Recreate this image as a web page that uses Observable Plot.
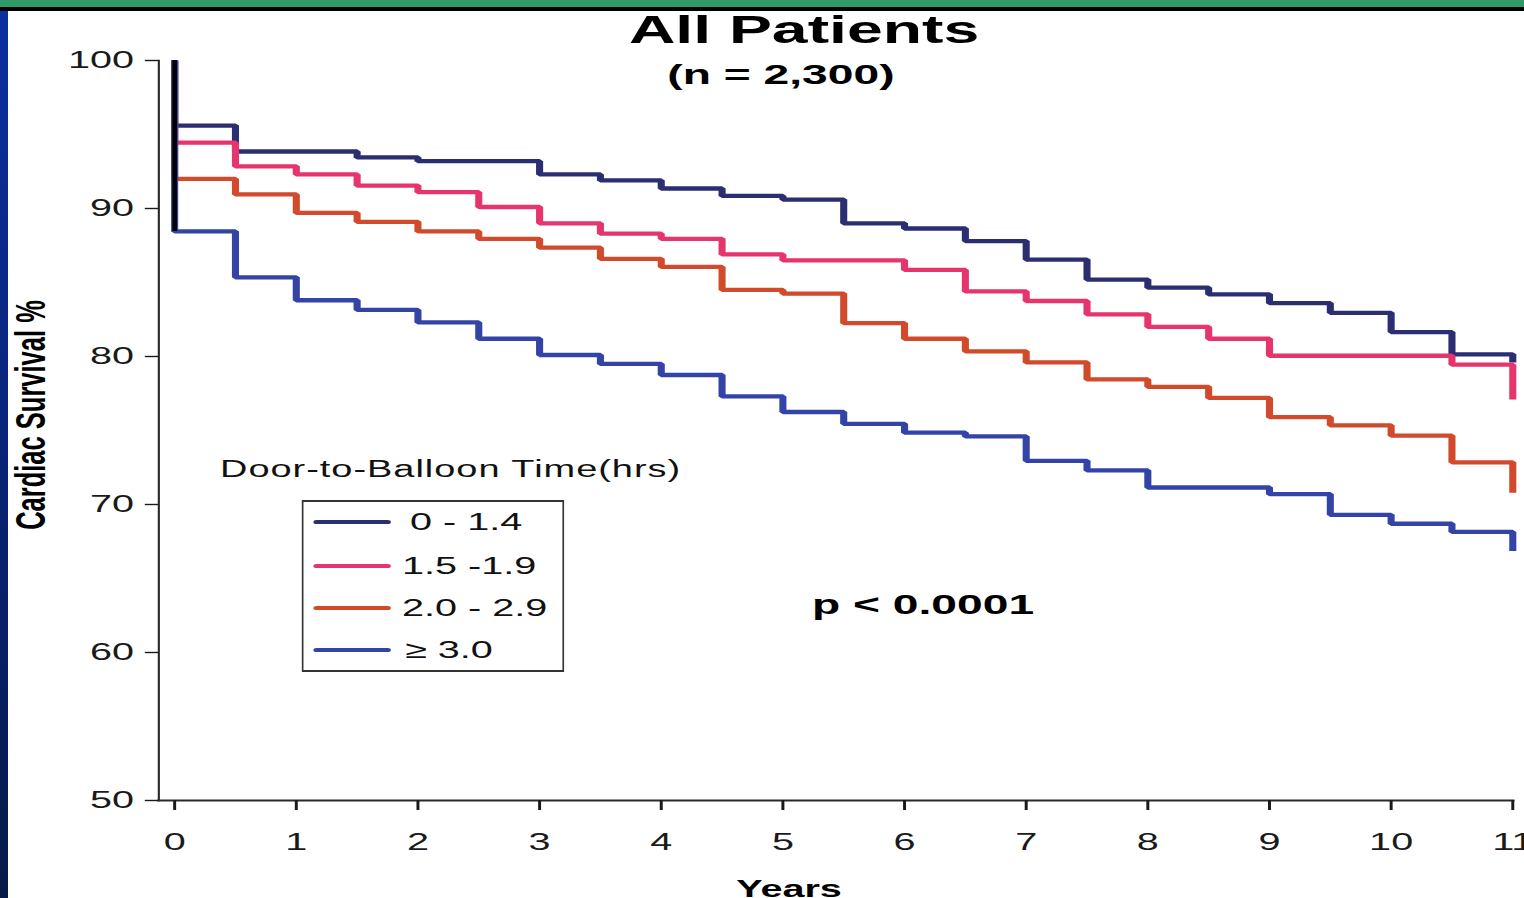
<!DOCTYPE html>
<html>
<head>
<meta charset="utf-8">
<script src="https://cdn.jsdelivr.net/npm/d3@7"></script>
<script src="https://cdn.jsdelivr.net/npm/@observablehq/plot@0.6"></script>
<style>
  html, body { margin: 0; padding: 0; width: 1524px; height: 898px; overflow: hidden; background: #fff; }
  body { position: relative; font-family: "Liberation Sans", Arial, Helvetica, sans-serif; color: #111; }
  #greenbar { position: absolute; left: 0; top: 0; width: 1524px; height: 7px; background: #2f9a68; z-index: 5; }
  #blackbar { position: absolute; left: 0; top: 7px; width: 1524px; height: 4px; background: #000; z-index: 5; }
  #bluebar { position: absolute; left: 0; top: 11px; width: 7.5px; height: 887px; background: linear-gradient(#0b2fa0, #08216e 60%, #061a48); z-index: 5; }
  #stage { position: absolute; left: 0; top: 0; width: 924px; height: 898px; transform: scaleX(1.649351); transform-origin: 0 0; }
  #stage svg { position: absolute; left: 0; top: 0; }
  .t { position: absolute; white-space: pre; line-height: 1; }
  .swatch { position: absolute; height: 4px; border-radius: 2px; }
</style>
</head>
<body>
<div id="greenbar"></div>
<div id="blackbar"></div>
<div id="bluebar"></div>
<div id="stage"></div>
<script>
// ---------- data ----------
const groups = ["0 - 1.4", "1.5 -1.9", "2.0 - 2.9", "\u2265 3.0"];
const groupColors = ["#2b2f72", "#e5356c", "#d24a2c", "#3344a6"];
const startValue = 100;
const years = [0, 0.5, 1, 1.5, 2, 2.5, 3, 3.5, 4, 4.5, 5, 5.5, 6, 6.5, 7, 7.5, 8, 8.5, 9, 9.5, 10, 10.5, 11];
const survival0to14 = [95.6, 93.85, 93.85, 93.45, 93.2, 93.2, 92.3, 91.9, 91.35, 90.85, 90.6, 89.0, 88.65, 87.8, 86.55, 85.2, 84.65, 84.2, 83.6, 82.95, 81.65, 80.15, 79.6];
const survival15to19 = [94.45, 92.85, 92.3, 91.55, 91.1, 90.1, 89.0, 88.3, 87.95, 86.9, 86.5, 86.5, 85.85, 84.4, 83.75, 82.85, 82.0, 81.2, 80.05, 80.05, 80.05, 79.45, 77.1];
const survival20to29 = [92.0, 90.95, 89.7, 89.1, 88.45, 87.95, 87.35, 86.6, 86.05, 84.5, 84.25, 82.25, 81.2, 80.35, 79.6, 78.45, 77.95, 77.2, 75.9, 75.35, 74.65, 72.85, 70.8];
const survival30plus = [88.45, 85.35, 83.8, 83.15, 82.3, 81.2, 80.1, 79.5, 78.75, 77.3, 76.25, 75.45, 74.85, 74.6, 72.95, 72.3, 71.15, 71.15, 70.7, 69.3, 68.7, 68.15, 66.85];
const xTicks = [0, 1, 2, 3, 4, 5, 6, 7, 8, 9, 10, 11];
const yTicks = [50, 60, 70, 80, 90, 100];
const titleText = "All Patients";
const subtitleText = "(n = 2,300)";
const legendTitle = "Door-to-Balloon Time(hrs)";
const pText = "p < 0.0001";
const xLabel = "Years";
const yLabel = "Cardiac Survival %";

// ---------- build rows ----------
const seriesValues = [survival0to14, survival15to19, survival20to29, survival30plus];
const rows = [];
groups.forEach((g, gi) => {
  rows.push({group: g, t: years[0], v: startValue});
  seriesValues[gi].forEach((v, i) => rows.push({group: g, t: years[i], v}));
});
const originRule = [{t: years[0], top: startValue, bottom: d3.min(seriesValues, s => s[0])}];

const plot = Plot.plot({
  width: 924,
  height: 898,
  marginTop: 60,
  marginBottom: 98,
  marginLeft: 95.8,
  marginRight: 7.3,
  style: {fontFamily: "'Liberation Sans', Arial, sans-serif", fontSize: "24px", color: "#1a1a1a", background: "transparent", overflow: "visible"},
  x: {domain: [-0.13, 11]},
  y: {domain: [50, 100]},
  color: {domain: groups, range: groupColors},
  marks: [
    Plot.frame({anchor: "left", stroke: "#2a2a2a", strokeWidth: 1.3}),
    Plot.frame({anchor: "bottom", stroke: "#2a2a2a", strokeWidth: 2}),
    Plot.axisX({ticks: xTicks, tickSize: 10, tickPadding: 22, tickFormat: d => String(d), fontSize: 24, strokeWidth: 1.8, label: null}),
    Plot.axisY({ticks: yTicks, tickSize: 8, tickPadding: 7, tickFormat: d => String(d), fontSize: 24, strokeWidth: 1.4, label: null}),
    Plot.line(rows, {x: "t", y: "v", z: "group", stroke: "group", curve: "step-after", strokeWidth: 4.3, strokeLinejoin: "miter", strokeLinecap: "butt"}),
    Plot.ruleX(originRule, {x: "t", y1: "top", y2: "bottom", stroke: "#000", strokeWidth: 2.8})
  ]
});
const stage = document.getElementById("stage");
stage.appendChild(plot);

function addText(txt, opts) {
  const d = document.createElement("div");
  d.className = "t";
  d.textContent = txt;
  Object.assign(d.style, opts);
  stage.appendChild(d);
  return d;
}

// title & subtitle
addText(titleText, {left: (487.5 - 250) + "px", width: "500px", textAlign: "center", top: "10px", fontSize: "39px", fontWeight: "bold", color: "#000"});
addText(subtitleText, {left: (473.5 - 200) + "px", width: "400px", textAlign: "center", top: "61px", fontSize: "28px", fontWeight: "bold", color: "#000"});

// legend
addText(legendTitle, {left: "133.4px", top: "457.5px", fontSize: "23px", letterSpacing: "0.6px", color: "#111"});
const box = document.createElement("div");
Object.assign(box.style, {position: "absolute", left: "182.5px", top: "500px", width: "157px", height: "167.5px", borderTop: "2px solid #333", borderBottom: "2px solid #333", borderLeft: "1.3px solid #333", borderRight: "1.3px solid #333"});
stage.appendChild(box);
const rowCenters = [522, 565.5, 608, 650];
const labelLefts = [248.6, 243.7, 243.7, 245.5];
groups.forEach((g, i) => {
  const sw = document.createElement("div");
  sw.className = "swatch";
  Object.assign(sw.style, {left: "190.4px", width: "46.7px", top: (rowCenters[i] - 2) + "px", background: groupColors[i]});
  stage.appendChild(sw);
  addText(g, {left: labelLefts[i] + "px", top: (rowCenters[i] - 11.7) + "px", fontSize: "24px", color: "#111"});
});

// p-value
addText(pText, {left: "492.3px", top: "591.3px", fontSize: "28px", fontWeight: "bold", color: "#000"});

// axis titles
addText(xLabel, {left: (478.4 - 100) + "px", width: "200px", textAlign: "center", top: "876.9px", fontSize: "24px", fontWeight: "bold", color: "#000"});
addText(yLabel, {left: "18.8px", top: "415px", fontSize: "25.5px", fontWeight: "bold", color: "#000", transform: "translate(-50%, -50%) rotate(-90deg)"});
</script>
</body>
</html>
